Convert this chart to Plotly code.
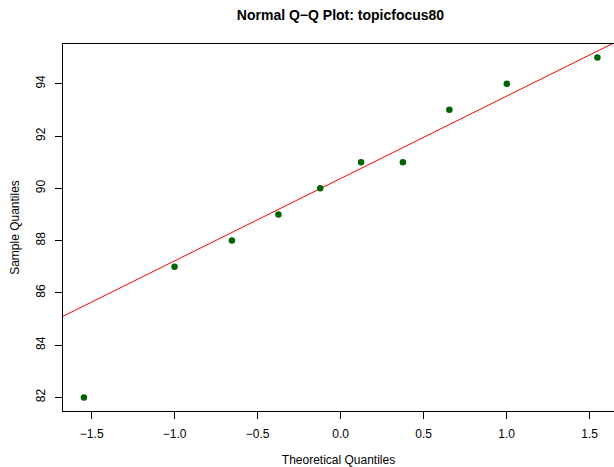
import numpy as np
import plotly.graph_objects as go

# Data
theoretical = [-1.547, -1.001, -0.655, -0.375, -0.123, 0.123, 0.375, 0.655, 1.001, 1.547]
sample = [82, 87, 88, 89, 90, 91, 91, 93, 94, 95]
x_ticks = [-1.5, -1.0, -0.5, 0.0, 0.5, 1.0, 1.5]
y_ticks = [82, 84, 86, 88, 90, 92, 94]

# qqline through the quartiles
q1, q3 = np.percentile(sample, [25, 75])
zq = 0.6744897501960817
slope = (q3 - q1) / (2 * zq)
intercept = q1 + slope * zq

x_range = [-1.673, 1.647]
y_range = [81.48, 95.52]
line_x = [x_range[0] - 0.1, x_range[1] + 0.1]
line_y = [intercept + slope * v for v in line_x]

font_family = "Liberation Sans, Arial, Helvetica, sans-serif"

fig = go.Figure()
fig.add_trace(go.Scatter(x=line_x, y=line_y, mode="lines",
                         line=dict(color="#ff0000", width=1), cliponaxis=True,
                         hoverinfo="skip"))
fig.add_trace(go.Scatter(x=theoretical, y=sample, mode="markers",
                         marker=dict(color="#006400", size=6.5, line=dict(width=0))))

fig.update_layout(
    width=614, height=467,
    margin=dict(l=63, r=0, t=43.5, b=55.7, autoexpand=False),
    paper_bgcolor="white", plot_bgcolor="white",
    showlegend=False,
    font=dict(family=font_family, color="black", size=12),
    title=dict(text="<b>Normal Q\u2212Q Plot: topicfocus80</b>",
               x=(63 + 618) / 2 / 614, xanchor="center",
               y=1 - 15 / 467, yanchor="middle",
               font=dict(size=14, family=font_family)),
    xaxis=dict(range=x_range, tickvals=x_ticks, automargin=False,
               ticktext=[f"{v:.1f}".replace("-", "\u2212") for v in x_ticks],
               showgrid=False, zeroline=False,
               showline=True, linecolor="black", linewidth=1, mirror=True,
               ticks="outside", ticklen=7, tickcolor="black", tickwidth=1,
               ticklabelstandoff=5, tickfont=dict(size=12),
               title=dict(text="Theoretical Quantiles", standoff=18, font=dict(size=12))),
    yaxis=dict(range=y_range, tickvals=y_ticks, automargin=False,
               showgrid=False, zeroline=False,
               showline=True, linecolor="black", linewidth=1, mirror=False,
               ticks="outside", ticklen=7, tickcolor="black", tickwidth=1,
               tickangle=-90, ticklabelstandoff=5, tickfont=dict(size=12),
               title=dict(text="Sample Quantiles", standoff=12, font=dict(size=12))),
)

fig.write_html("out.html", config={"displayModeBar": False},
               post_script="document.body.style.margin='0';document.body.style.padding='0';")
